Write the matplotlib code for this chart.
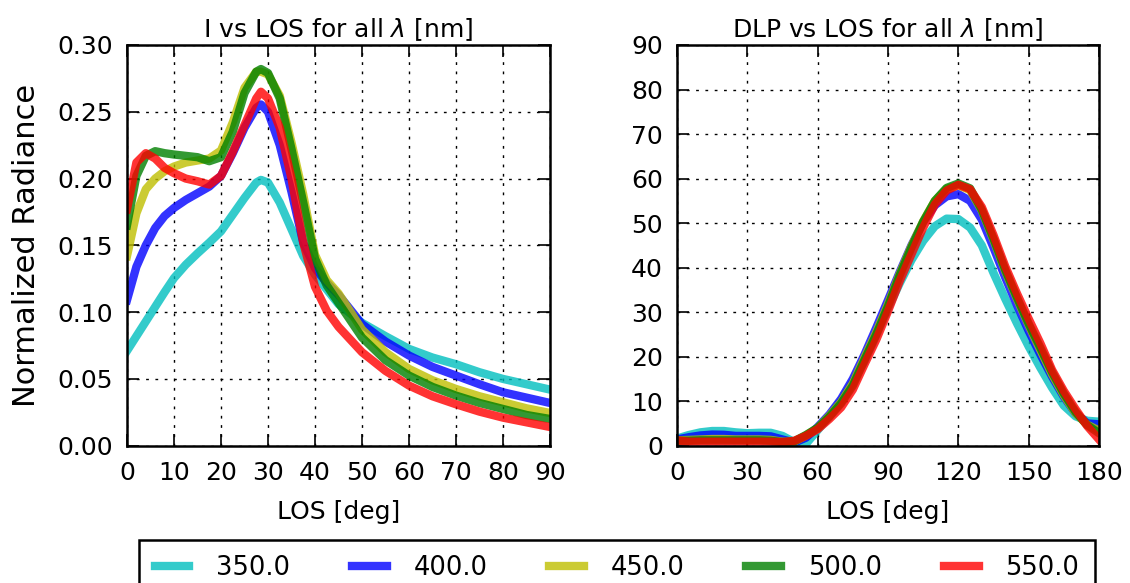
import numpy as np
import matplotlib
matplotlib.use("Agg")
import matplotlib.pyplot as plt

# Wellenlaengen (Legende) und Farben
wavelengths = ["350.0", "400.0", "450.0", "500.0", "550.0"]
colors = ["c", "b", "y", "g", "r"]

# --- I vs LOS ---
los_i = [0, 2, 4, 6, 8, 10, 12.5, 15, 17.5, 20, 22.5, 25, 27.5, 28.5, 30,
         32.5, 35, 37.5, 40, 42.5, 45, 50, 55, 60, 65, 70, 75, 80, 85, 90]
i_350 = [0.071, 0.082, 0.093, 0.104, 0.115, 0.1255, 0.1355, 0.144, 0.152, 0.1605,
         0.173, 0.1855, 0.197, 0.199, 0.197, 0.182, 0.162, 0.142, 0.128, 0.117,
         0.106, 0.092, 0.082, 0.0725, 0.066, 0.061, 0.055, 0.05, 0.046, 0.042]
i_400 = [0.109, 0.134, 0.15, 0.163, 0.172, 0.178, 0.184, 0.189, 0.194, 0.202,
         0.219, 0.238, 0.253, 0.2555, 0.25, 0.225, 0.19, 0.152, 0.133, 0.122,
         0.113, 0.091, 0.078, 0.0675, 0.059, 0.0525, 0.046, 0.04, 0.036, 0.032]
i_450 = [0.142, 0.174, 0.192, 0.2, 0.2055, 0.209, 0.212, 0.2135, 0.215, 0.221,
         0.242, 0.268, 0.28, 0.28, 0.278, 0.262, 0.227, 0.188, 0.143, 0.124,
         0.114, 0.087, 0.07, 0.0575, 0.049, 0.0425, 0.037, 0.0325, 0.028, 0.0245]
i_500 = [0.165, 0.202, 0.217, 0.2205, 0.219, 0.218, 0.217, 0.216, 0.213, 0.216,
         0.235, 0.264, 0.28, 0.282, 0.279, 0.26, 0.222, 0.182, 0.14, 0.12,
         0.107, 0.081, 0.064, 0.0525, 0.044, 0.0375, 0.032, 0.0275, 0.023, 0.02]
i_550 = [0.177, 0.212, 0.219, 0.215, 0.208, 0.204, 0.2, 0.198, 0.1955, 0.202,
         0.22, 0.24, 0.26, 0.265, 0.26, 0.238, 0.2, 0.152, 0.119, 0.101,
         0.089, 0.07, 0.056, 0.045, 0.037, 0.031, 0.0255, 0.021, 0.0175, 0.014]

# --- DLP vs LOS ---
los_d = list(range(0, 181, 5))
dlp_350 = [1.6, 2.4, 3.0, 3.3, 3.3, 3.0, 2.8, 2.9, 2.9, 2.2, 0.8, 0.4, 3.5,
           6.6, 10.0, 14.3, 19.0, 24.8, 30.8, 36.5, 41.7, 46.0, 49.3, 51.0, 50.9,
           49.0, 45.0, 38.8, 33.0, 27.5, 22.3, 17.5, 13.0, 9.0, 6.6, 5.6, 5.4]
dlp_400 = [1.4, 1.9, 2.3, 2.5, 2.45, 2.2, 2.2, 2.2, 2.1, 1.4, 0.7, 1.8, 4.2,
           7.0, 10.5, 15.0, 20.5, 26.5, 32.7, 39.0, 45.0, 50.2, 54.0, 56.0, 56.5,
           55.0, 50.8, 44.5, 37.8, 31.6, 25.8, 20.5, 15.5, 11.0, 7.3, 5.0, 4.8]
dlp_450 = [1.2, 1.3, 1.4, 1.5, 1.5, 1.4, 1.4, 1.4, 1.3, 0.9, 0.9, 2.3, 4.0,
           6.7, 9.8, 14.0, 19.8, 25.5, 31.8, 38.6, 44.8, 50.4, 55.0, 57.7, 58.5,
           57.4, 52.8, 46.2, 39.2, 33.0, 27.1, 21.5, 16.0, 11.3, 7.3, 4.7, 3.4]
dlp_500 = [1.1, 1.1, 1.2, 1.2, 1.2, 1.2, 1.2, 1.2, 1.1, 0.8, 1.0, 2.4, 4.0,
           6.5, 9.5, 13.5, 19.3, 25.0, 31.3, 38.3, 44.5, 50.3, 55.0, 57.9, 58.9,
           57.8, 53.0, 46.5, 39.5, 33.3, 27.4, 22.0, 16.5, 11.7, 7.6, 4.6, 2.8]
dlp_550 = [1.2, 0.9, 0.9, 0.9, 0.9, 0.9, 0.9, 0.9, 0.9, 0.8, 1.1, 2.2, 3.7,
           6.0, 8.6, 12.6, 18.3, 23.8, 30.2, 37.0, 43.0, 49.0, 54.2, 57.3, 58.6,
           57.6, 53.6, 47.3, 40.3, 34.2, 28.5, 23.0, 17.0, 12.3, 8.2, 4.4, 1.4]

i_data = [i_350, i_400, i_450, i_500, i_550]
dlp_data = [dlp_350, dlp_400, dlp_450, dlp_500, dlp_550]

plt.rcParams["font.family"] = ["DejaVu Sans"]
plt.rcParams["mathtext.fontset"] = "dejavusans"
plt.rcParams["font.size"] = 18

fig = plt.figure(figsize=(11.3, 5.83), dpi=100)
bottom = (583 - 445.7) / 583
height = 400.7 / 583
ax1 = fig.add_axes([127 / 1130, bottom, 423 / 1130, height])
ax2 = fig.add_axes([677 / 1130, bottom, 422 / 1130, height])

lines = []
for y, c, lab in zip(i_data, colors, wavelengths):
    ln, = ax1.plot(los_i, y, color=c, lw=6, alpha=0.8, label=lab)
    lines.append(ln)
for y, c in zip(dlp_data, colors):
    ax2.plot(los_d, y, color=c, lw=6, alpha=0.8)

ax1.set_xlim(0, 90)
ax1.set_ylim(0, 0.30)
ax1.set_xticks(np.arange(0, 91, 10))
ax1.set_yticks(np.arange(0, 0.31, 0.05))
ax1.set_yticklabels(["%.2f" % v for v in np.arange(0, 0.31, 0.05)])
ax1.set_title(r"I vs LOS for all $\lambda$ [nm]", fontsize=18)
ax1.set_xlabel("LOS [deg]", fontsize=18, labelpad=11)
ax1.set_ylabel("Normalized Radiance", fontsize=22, labelpad=12)

ax2.set_xlim(0, 180)
ax2.set_ylim(0, 90)
ax2.set_xticks(np.arange(0, 181, 30))
ax2.set_yticks(np.arange(0, 91, 10))
ax2.set_title(r"DLP vs LOS for all $\lambda$ [nm]", fontsize=18)
ax2.set_xlabel("LOS [deg]", fontsize=18, labelpad=11)

for ax in (ax1, ax2):
    ax.grid(True, color="k", linestyle=(0, (2, 4.7)), linewidth=1.0)
    ax.tick_params(direction="in", top=True, right=True, length=8.5, width=1.2,
                   labelsize=18)
    ax.tick_params(axis="x", pad=11)
    ax.tick_params(axis="y", pad=10)
    for sp in ax.spines.values():
        sp.set_linewidth(1.8)

leg = fig.legend(lines, wavelengths, loc="upper center",
                 bbox_to_anchor=(0.546, 1 - 540 / 583), ncol=5, fontsize=18.5,
                 fancybox=False, edgecolor="k", framealpha=1, borderpad=0.6,
                 handlelength=1.35, handletextpad=1.05, columnspacing=2.4,
                 borderaxespad=0)
leg.get_frame().set_linewidth(1.8)

fig.savefig("out.png", dpi=100)
